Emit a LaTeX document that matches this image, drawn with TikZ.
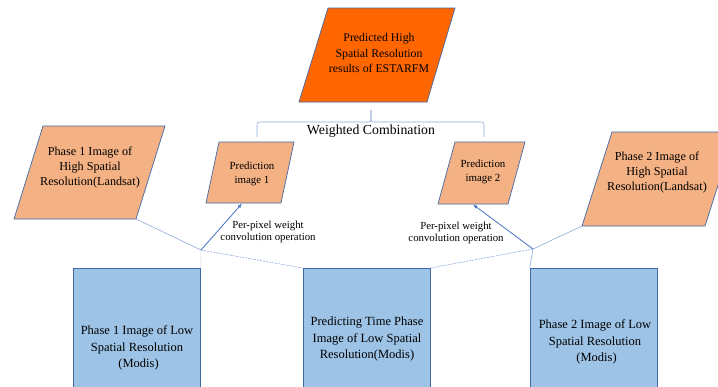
\documentclass[tikz,border=0pt]{standalone}
\usepackage{fontspec}
\setmainfont{Liberation Serif}
\usetikzlibrary{arrows.meta}
\definecolor{topfill}{HTML}{FF6600}
\definecolor{hifill}{HTML}{F4B183}
\definecolor{lowfill}{HTML}{9DC3E6}
\definecolor{edge}{HTML}{4169A8}
\definecolor{linkc}{HTML}{8FAADC}
\definecolor{arrc}{HTML}{4472C4}
\tikzset{
  shapeedge/.style={draw=edge, line width=0.7pt},
  topbox/.style={shapeedge, fill=topfill},
  hibox/.style={shapeedge, fill=hifill},
  lowbox/.style={shapeedge, fill=lowfill, minimum width=127pt, minimum height=200pt, anchor=north, inner sep=0pt},
  txt/.style={align=center, inner sep=0pt, text=black},
  link/.style={draw=linkc, line width=0.6pt},
  dlink/.style={draw=linkc, line width=0.6pt, dash pattern=on 2pt off 1pt},
  faint/.style={draw=linkc!45, line width=0.5pt},
  arr/.style={draw=arrc, line width=0.8pt, -{Latex[length=4.5pt,width=3.5pt]}},
  bracec/.style={draw=linkc, line width=0.6pt}
}
\begin{document}
\begin{tikzpicture}[x=1pt,y=-1pt]
\useasboundingbox (0,0) rectangle (718,386);
\clip (0,0) rectangle (718,386);
\fill[white] (0,0) rectangle (718,386);

% top result
\coordinate (ttl) at (328,8); \coordinate (ttr) at (455,8);
\coordinate (tbr) at (427,102); \coordinate (tbl) at (299,102);
\draw[topbox] (ttl) -- (ttr) -- (tbr) -- (tbl) -- cycle;
\node[txt, font=\fontsize{11.8}{15.5}\selectfont] (top) at (379,53) {Predicted High\\Spatial Resolution\\results of ESTARFM};

% brace
\coordinate (bl) at (257,137); \coordinate (bm) at (371,110); \coordinate (br) at (484,137);
\draw[bracec] (bl) -- (257,127) .. controls (257,122) .. (262,122) -- (366,122)
  .. controls (371,122) .. (371,117) -- (bm);
\draw[bracec] (bm) -- (371,117) .. controls (371,122) .. (376,122) -- (479,122)
  .. controls (484,122) .. (484,127) -- (br);
\node[txt, font=\fontsize{13.8}{16}\selectfont] (wc) at (371,131) {Weighted Combination};

% phase 1 high
\coordinate (ahtl) at (43,126); \coordinate (ahtr) at (165,126);
\coordinate (ahbr) at (136,219); \coordinate (ahbl) at (14,219);
\draw[hibox] (ahtl) -- (ahtr) -- (ahbr) -- (ahbl) -- cycle;
\node[txt, font=\fontsize{12.2}{15}\selectfont] (hi1) at (90,167) {Phase 1 Image of\\High Spatial\\Resolution(Landsat)};

% phase 2 high
\coordinate (bhtl) at (612,132); \coordinate (bhtr) at (735,132);
\coordinate (bhbr) at (705,226); \coordinate (bhbl) at (582,226);
\draw[hibox] (bhtl) -- (bhtr) -- (bhbr) -- (bhbl) -- cycle;
\node[txt, font=\fontsize{12.2}{15}\selectfont] (hi2) at (657,173) {Phase 2 Image of\\High Spatial\\Resolution(Landsat)};

% prediction 1
\coordinate (p1tl) at (219,142); \coordinate (p1tr) at (294,142);
\coordinate (p1br) at (281,203); \coordinate (p1bl) at (206,203);
\draw[hibox] (p1tl) -- (p1tr) -- (p1br) -- (p1bl) -- cycle;
\node[txt, font=\fontsize{10.9}{14}\selectfont] (pr1) at (252,174) {Prediction\\image 1};
\coordinate (p1in) at (242,203.5);

% prediction 2
\coordinate (p2tl) at (455,142); \coordinate (p2tr) at (525,142);
\coordinate (p2br) at (508,204); \coordinate (p2bl) at (438,204);
\draw[hibox] (p2tl) -- (p2tr) -- (p2br) -- (p2bl) -- cycle;
\node[txt, font=\fontsize{10.9}{14}\selectfont] (pr2) at (483,172) {Prediction\\image 2};
\coordinate (p2in) at (473,204.5);

% low resolution boxes
\node[lowbox] (low1) at (137,268) {};
\node[lowbox] (low2) at (366.5,268) {};
\node[lowbox] (low3) at (593.5,268) {};
\node[txt, font=\fontsize{12.5}{16.5}\selectfont] (lt1) at (137,348) {Phase 1 Image of Low\\Spatial Resolution\\\ (Modis)};
\node[txt, font=\fontsize{12.5}{16.5}\selectfont] (lt2) at (367,339) {Predicting Time Phase\\Image of Low Spatial\\Resolution(Modis)};
\node[txt, font=\fontsize{12.5}{16.5}\selectfont] (lt3) at (595,342) {Phase 2 Image of Low\\Spatial Resolution\\\ (Modis)};

% junctions
\coordinate (j1) at (201,250);
\coordinate (j2) at (533,249);

\draw[link] (ahbr) -- (j1);
\draw[faint] (j1) -- (low1.north east);
\draw[dlink] (j1) -- (low2.north west);
\draw[arr] (j1) -- (p1in);

\draw[link] (bhbl) -- (j2);
\draw[link] (j2) -- (low3.north west);
\draw[dlink] (j2) -- (low2.north east);
\draw[arr] (j2) -- (p2in);

% labels
\node[txt, font=\fontsize{10.8}{12}\selectfont] (lab1) at (268,232) {Per-pixel weight\\convolution operation};
\node[txt, font=\fontsize{10.8}{12}\selectfont] (lab2) at (456,233) {Per-pixel weight\\convolution operation};
\end{tikzpicture}
\end{document}
